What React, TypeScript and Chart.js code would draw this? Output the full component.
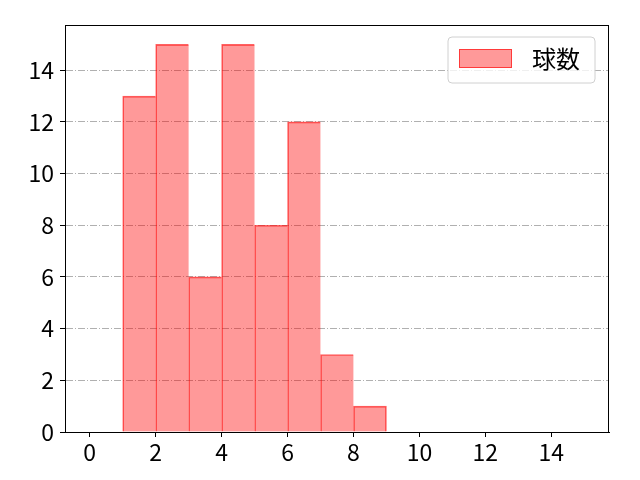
import React, { useEffect, useRef } from "react";
import { Chart, registerables } from "chart.js";

Chart.register(...registerables);

const binStarts = [1, 2, 3, 4, 5, 6, 7, 8];
const counts = [13, 15, 6, 15, 8, 12, 3, 1];
const seriesLabel = "球数";
const tickValues = [0, 2, 4, 6, 8, 10, 12, 14];

const FONT = "'Noto Sans CJK JP', 'Noto Sans', sans-serif";
const FILL = "rgba(255,0,0,0.4)";
const EDGE = "rgba(255,0,0,0.62)";

const framePlugin = {
  id: "frameAndLegend",
  afterDraw(chart: any) {
    const { ctx, chartArea } = chart;
    ctx.save();
    ctx.strokeStyle = "#000";
    ctx.lineWidth = 1;
    ctx.strokeRect(
      Math.round(chartArea.left) + 0.5,
      Math.round(chartArea.top) + 0.5,
      Math.round(chartArea.right - chartArea.left) - 1,
      Math.round(chartArea.bottom - chartArea.top)
    );
    // legend box
    const bx = chartArea.right - 161;
    const by = chartArea.top + 12;
    const bw = 147;
    const bh = 46;
    const r = 4;
    ctx.beginPath();
    ctx.moveTo(bx + r, by);
    ctx.lineTo(bx + bw - r, by);
    ctx.quadraticCurveTo(bx + bw, by, bx + bw, by + r);
    ctx.lineTo(bx + bw, by + bh - r);
    ctx.quadraticCurveTo(bx + bw, by + bh, bx + bw - r, by + bh);
    ctx.lineTo(bx + r, by + bh);
    ctx.quadraticCurveTo(bx, by + bh, bx, by + bh - r);
    ctx.lineTo(bx, by + r);
    ctx.quadraticCurveTo(bx, by, bx + r, by);
    ctx.closePath();
    ctx.fillStyle = "rgba(255,255,255,0.8)";
    ctx.fill();
    ctx.strokeStyle = "#d0d0d0";
    ctx.stroke();
    ctx.fillStyle = FILL;
    ctx.fillRect(bx + 11, by + 12, 53, 19);
    ctx.strokeStyle = EDGE;
    ctx.strokeRect(bx + 11.5, by + 12.5, 52, 18);
    ctx.fillStyle = "#000";
    ctx.font = `24px ${FONT}`;
    ctx.textBaseline = "middle";
    ctx.textAlign = "left";
    ctx.fillText(chart.data.datasets[0].label, bx + 84, by + 22);
    ctx.restore();
  },
};

function HistChart() {
  const ref = useRef<HTMLCanvasElement>(null);
  useEffect(() => {
    if (!ref.current) return;
    const last = counts.length - 1;
    const chart = new Chart(ref.current, {
      type: "bar",
      data: {
        datasets: [
          {
            label: seriesLabel,
            data: binStarts.map((s, i) => ({ x: s + 0.5, y: counts[i] })),
            backgroundColor: FILL,
            borderColor: EDGE,
            borderWidth: (c: any) => ({
              top: 1,
              left: 1,
              bottom: 0,
              right: c.dataIndex === last ? 1 : 0,
            }),
            borderSkipped: false,
            barPercentage: 1,
            categoryPercentage: 1,
          } as any,
        ],
      },
      options: {
        animation: false,
        responsive: false,
        devicePixelRatio: 1,
        layout: { padding: { top: 25, right: 31, left: 0, bottom: 0 } },
        plugins: { legend: { display: false }, tooltip: { enabled: false } },
        scales: {
          x: {
            type: "linear",
            min: -0.75,
            max: 15.75,
            offset: false,
            afterBuildTicks: (s: any) => {
              s.ticks = tickValues.map((v) => ({ value: v }));
            },
            afterFit: (s: any) => {
              s.height = 48;
            },
            grid: {
              offset: false,
              drawOnChartArea: false,
              drawTicks: true,
              tickLength: 5,
              tickColor: "#000",
              tickWidth: 1,
            },
            border: { color: "#000", width: 1 },
            ticks: {
              color: "#000",
              padding: 1,
              maxRotation: 0,
              font: { family: FONT, size: 23 },
            },
          },
          y: {
            type: "linear",
            min: 0,
            max: 15.75,
            afterBuildTicks: (s: any) => {
              s.ticks = tickValues.map((v) => ({ value: v }));
            },
            afterFit: (s: any) => {
              s.width = 65;
            },
            grid: {
              color: (c: any) => (c.tick && c.tick.value === 0 ? "rgba(0,0,0,0)" : "#b0b0b0"),
              lineWidth: 1,
              drawTicks: true,
              tickLength: 5,
              tickColor: "#000",
              tickWidth: 1,
            },
            border: { color: "#000", width: 1, dash: [7, 2, 1, 2] },
            ticks: {
              color: "#000",
              padding: 6,
              font: { family: FONT, size: 23 },
            },
          },
        },
      } as any,
      plugins: [framePlugin],
    });
    return () => chart.destroy();
  }, []);
  return <canvas ref={ref} width={640} height={480} style={{ width: 640, height: 480 }} />;
}

export default function App() {
  return (
    <div style={{ position: "fixed", left: 0, top: 0, width: 640, height: 480, background: "#fff" }}>
      <HistChart />
    </div>
  );
}
